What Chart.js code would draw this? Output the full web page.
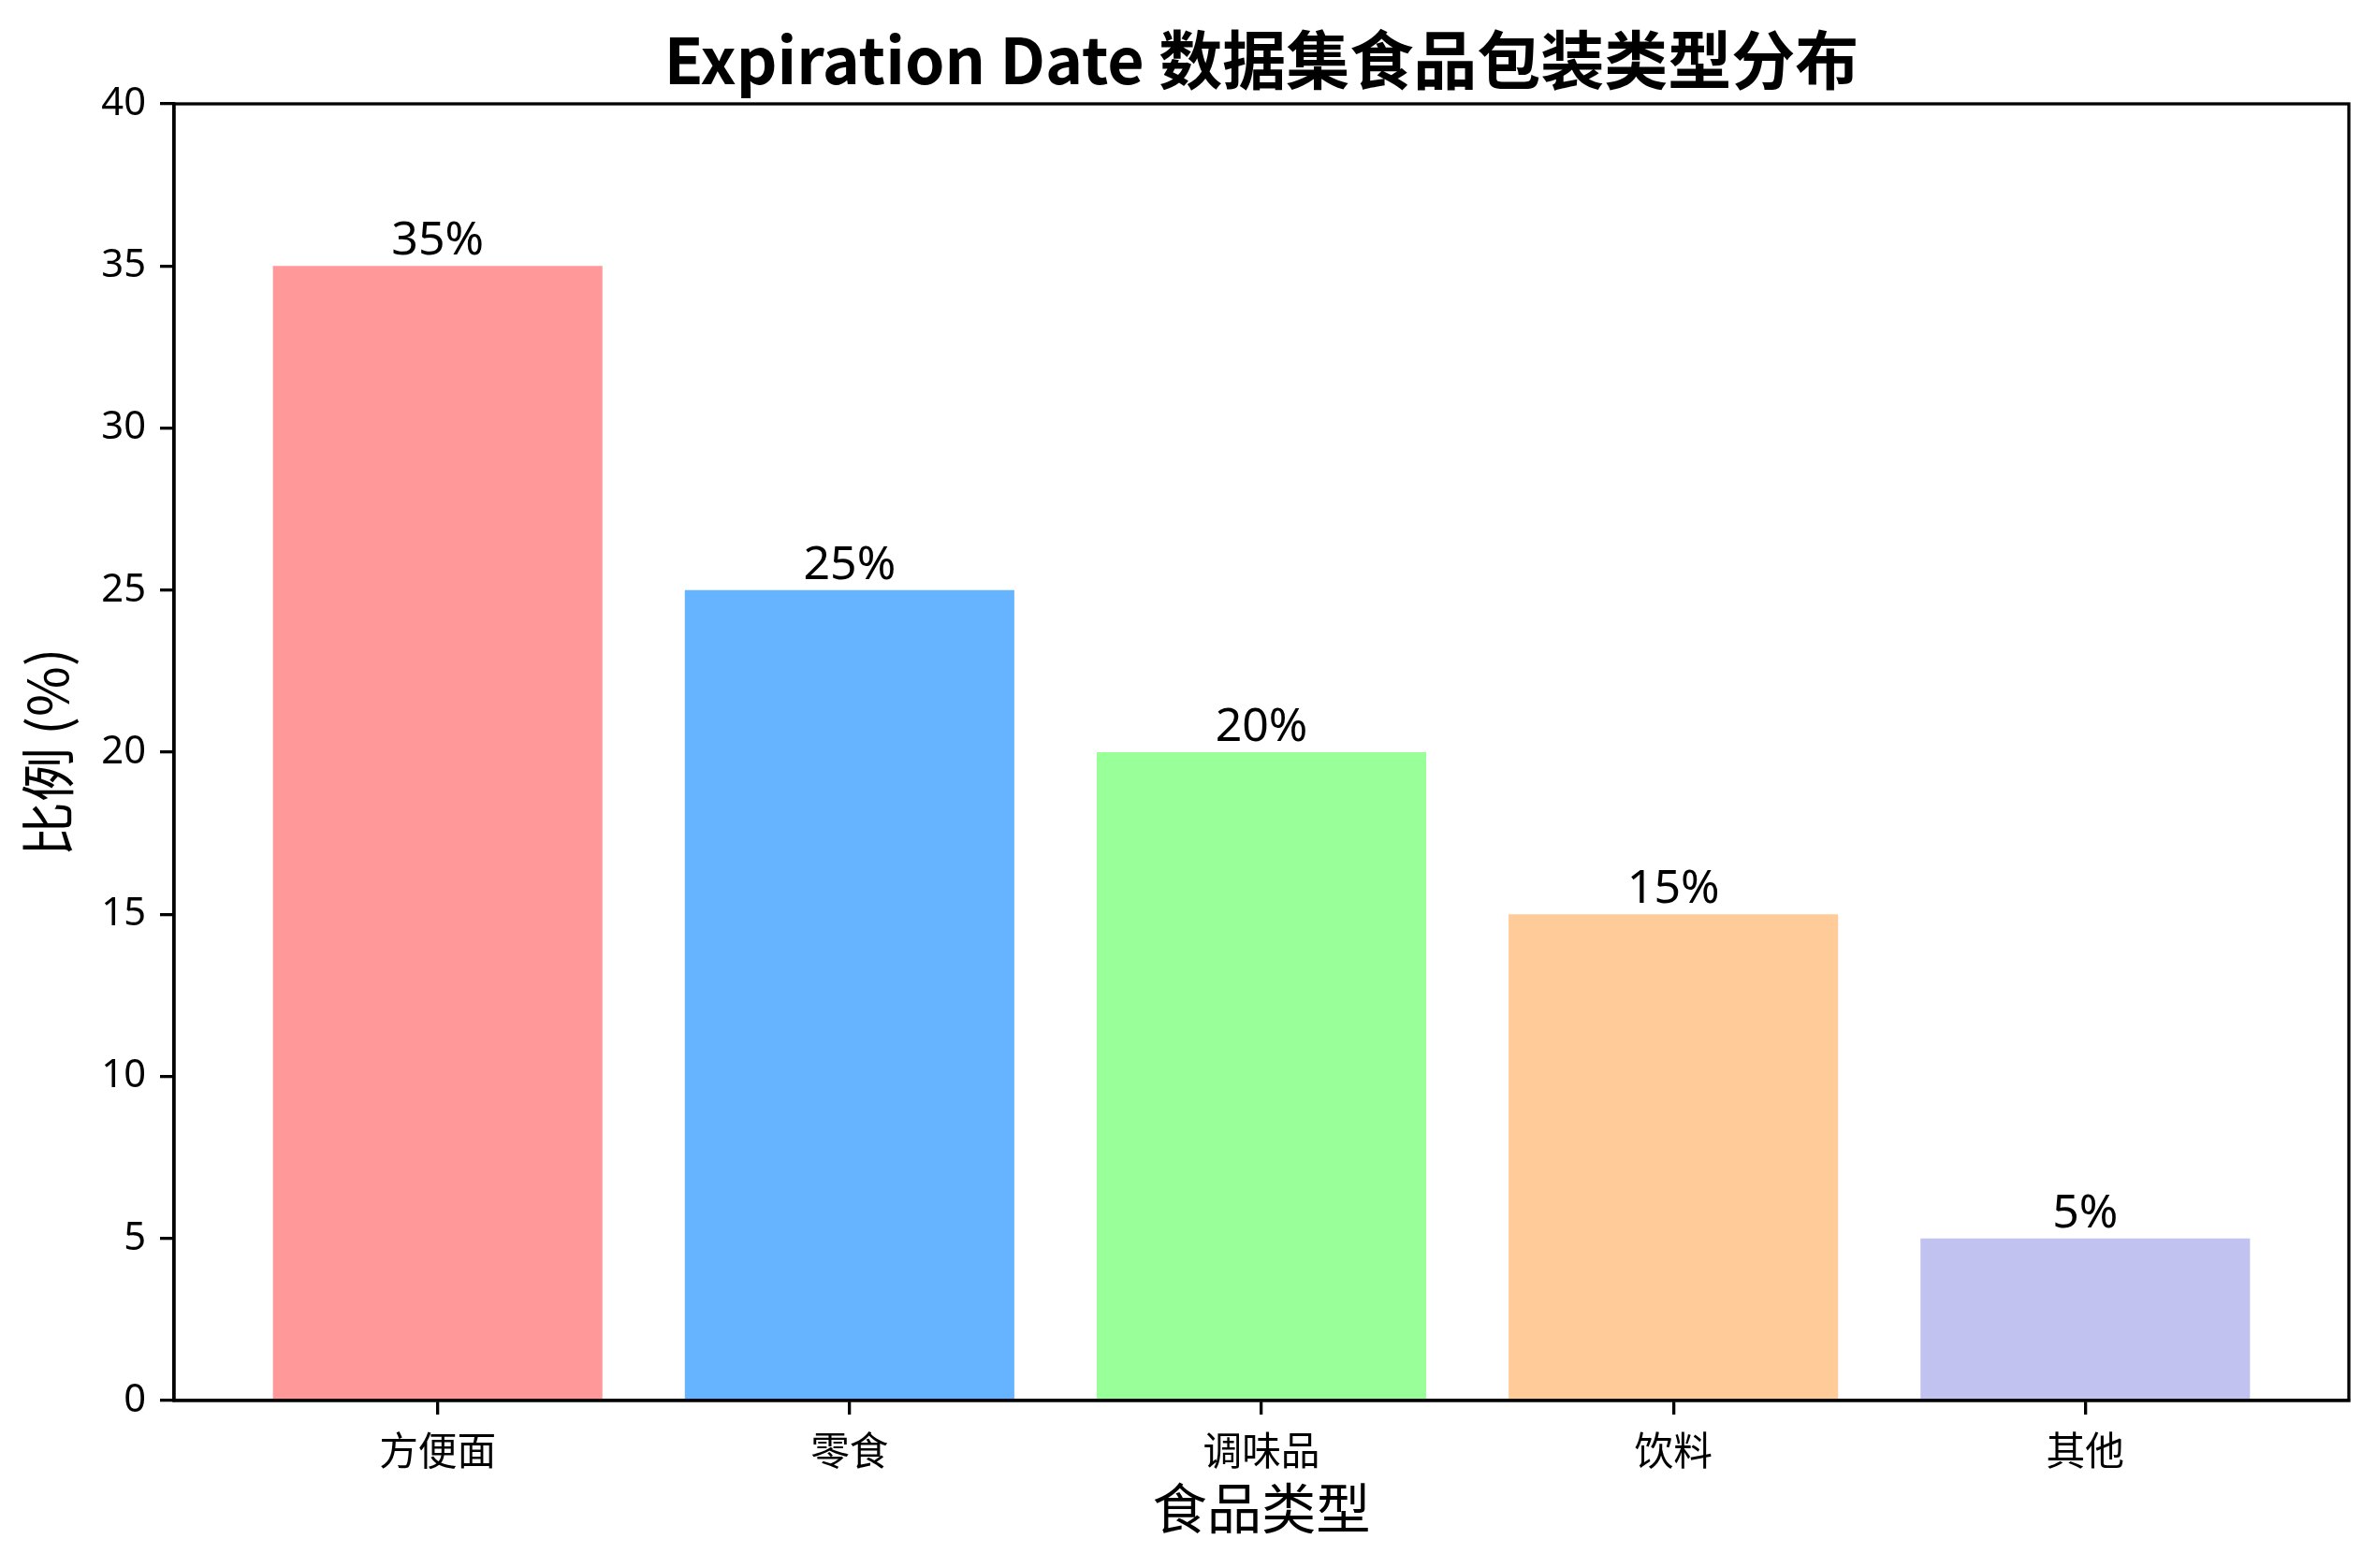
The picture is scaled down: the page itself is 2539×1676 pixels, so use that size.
<!DOCTYPE html>
<html>
<head>
<meta charset="utf-8">
<script src="https://cdn.jsdelivr.net/npm/chart.js@4/dist/chart.umd.min.js"></script>
<style>
  html, body { margin: 0; padding: 0; background: #ffffff; }
  #wrap { width: 2539px; height: 1676px; position: relative; }
</style>
</head>
<body>
<div id="wrap"><canvas id="c" width="2539" height="1676"></canvas></div>
<script>
// ---- data ----
const titleText = 'Expiration Date 数据集食品包装类型分布';
const xAxisTitle = '食品类型';
const yAxisTitle = '比例 (%)';
const categories = ['方便面', '零食', '调味品', '饮料', '其他'];
const values = [35, 25, 20, 15, 5];
const barColors = ['#ff9999', '#66b3ff', '#99ff99', '#ffcc99', '#c2c2f0'];
const yTicks = [0, 5, 10, 15, 20, 25, 30, 35, 40];

const LATIN = '"Noto Sans", "Noto Sans CJK SC", sans-serif';
const CJK = '"Noto Sans CJK SC", "Noto Sans", sans-serif';
const LW = 3.3;

const decorPlugin = {
  id: 'decor',
  afterDatasetsDraw(chart) {
    const ctx = chart.ctx;
    const meta = chart.getDatasetMeta(0);
    ctx.save();
    ctx.fillStyle = '#000';
    ctx.font = '50px ' + LATIN;
    ctx.textAlign = 'center';
    ctx.textBaseline = 'alphabetic';
    meta.data.forEach((bar, i) => {
      ctx.fillText(values[i] + '%', bar.x, bar.y - 12);
    });
    ctx.restore();
  },
  afterDraw(chart) {
    const ctx = chart.ctx;
    const a = chart.chartArea;
    ctx.save();
    ctx.strokeStyle = '#000';
    ctx.lineWidth = LW;
    ctx.strokeRect(a.left, a.top, a.right - a.left, a.bottom - a.top);
    ctx.fillStyle = '#000';
    ctx.font = 'bold 68px ' + CJK;
    ctx.textAlign = 'center';
    ctx.textBaseline = 'middle';
    ctx.fillText(titleText, (a.left + a.right) / 2, 64);
    ctx.restore();
  }
};

new Chart(document.getElementById('c'), {
  type: 'bar',
  data: {
    datasets: [{
      data: categories.map((c, i) => ({ x: i, y: values[i] })),
      backgroundColor: barColors,
      borderWidth: 0,
      barPercentage: 0.8,
      categoryPercentage: 1.0
    }]
  },
  options: {
    responsive: false,
    animation: false,
    devicePixelRatio: 1,
    layout: { padding: { top: 111, right: 29, left: 0, bottom: 0 } },
    plugins: {
      legend: { display: false },
      tooltip: { enabled: false },
      title: { display: false }
    },
    scales: {
      x: {
        type: 'linear',
        min: -0.64,
        max: 4.64,
        offset: false,
        afterFit(scale) { scale.height = 179; },
        afterBuildTicks(scale) { scale.ticks = categories.map((c, i) => ({ value: i })); },
        grid: { offset: false, drawOnChartArea: false, drawTicks: true, tickLength: 15, lineWidth: LW, color: '#000' },
        border: { display: true, color: '#000', width: LW },
        ticks: {
          color: '#000',
          font: { size: 41.7, family: CJK },
          padding: 13,
          maxRotation: 0,
          autoSkip: false,
          callback: (v) => categories[v]
        },
        title: {
          display: true,
          text: xAxisTitle,
          color: '#000',
          font: { size: 58.3, family: CJK },
          padding: { top: 0, bottom: 29 }
        }
      },
      y: {
        type: 'linear',
        min: 0,
        max: 40,
        afterFit(scale) { scale.width = 186; },
        afterBuildTicks(scale) { scale.ticks = yTicks.map(v => ({ value: v })); },
        grid: { drawOnChartArea: false, drawTicks: true, tickLength: 15, lineWidth: LW, color: '#000' },
        border: { display: true, color: '#000', width: LW },
        ticks: {
          color: '#000',
          font: { size: 41.7, family: LATIN },
          padding: 15
        },
        title: {
          display: true,
          text: yAxisTitle,
          color: '#000',
          font: { size: 58.3, family: CJK },
          padding: { top: 16, bottom: 0 }
        }
      }
    }
  },
  plugins: [decorPlugin]
});
</script>
</body>
</html>
